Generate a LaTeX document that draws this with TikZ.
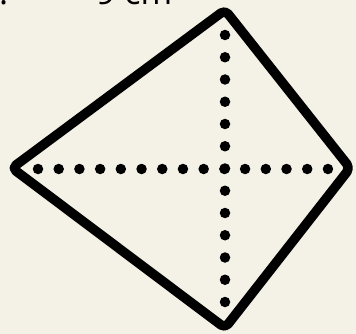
\documentclass[tikz,border=0pt]{standalone}
\usepackage{fontspec}
\setmainfont{Open Sans}
\definecolor{bg}{HTML}{F4F1E6}
\begin{document}
\begin{tikzpicture}[x=1pt,y=-1pt,
  kite/.style={line width=9.5pt,line join=round,rounded corners=5pt,draw=black},
  dotmark/.style={circle,fill=black,inner sep=0pt,minimum size=10.5pt},
  lbl/.style={font=\fontsize{34}{40}\selectfont,inner sep=0pt,anchor=base west}]
\fill[bg] (0,0) rectangle (356,334);
\useasboundingbox (0,0) rectangle (356,334);
\coordinate (T) at (225,10);
\coordinate (L) at (12,168);
\coordinate (R) at (350,168);
\coordinate (B) at (225,328);
\draw[kite] (T) -- (R) -- (B) -- (L) -- cycle;
\foreach \i in {0,...,14} \node[dotmark] (h\i) at ({38+\i*20.71},169) {};
\foreach \i in {0,...,12} \node[dotmark] (v\i) at (225,{35+\i*22.25}) {};
\node[lbl] (dot) at (-1,5) {.};
\node[lbl] (len) at (96,5) {9 cm};
\end{tikzpicture}
\end{document}
